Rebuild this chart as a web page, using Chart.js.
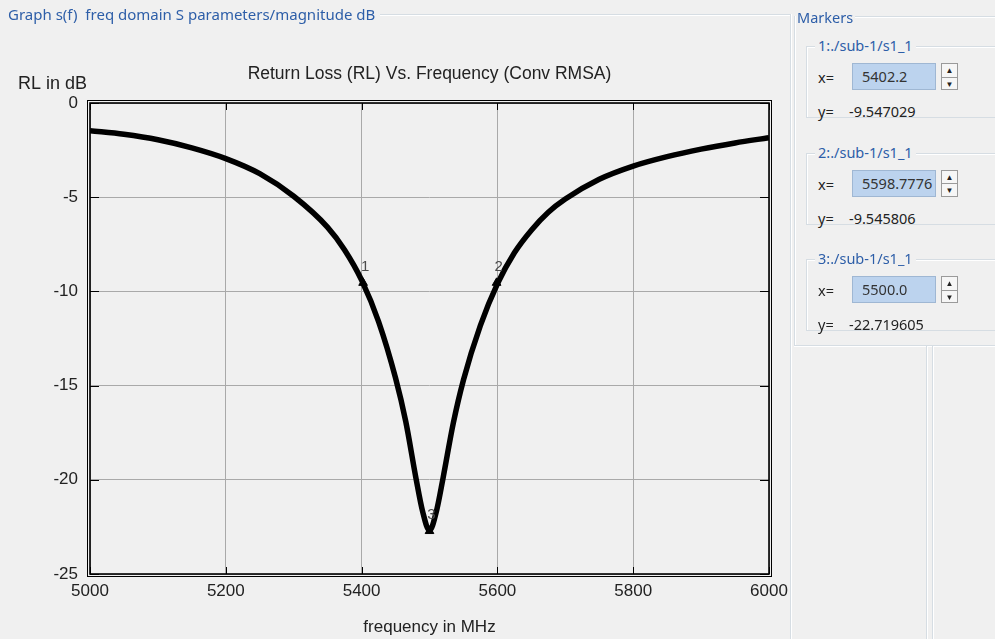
<!DOCTYPE html>
<html>
<head>
<meta charset="utf-8">
<script src="https://cdn.jsdelivr.net/npm/chart.js@4"></script>
<style>
  body { margin: 0; background: #f0f0f0; font-family: "Noto Sans", sans-serif; }
  #wrap { position: relative; width: 995px; height: 639px; overflow: hidden; background: #f0f0f0; }
  #chartBox { position: absolute; left: 0; top: 0; width: 800px; height: 639px; }
  .blue { color: #2d5ea8; }
  .lbl { position: absolute; font-size: 14.5px; white-space: nowrap; }
  .hline { position: absolute; height: 0; border-top: 1px solid #d6dde3; border-bottom: 1px solid #fff; }
  .vline { position: absolute; width: 0; border-left: 1px solid #d6dde3; border-right: 1px solid #fff; }
  .grp { position: absolute; border: 1px solid #d6dde3; border-right: none; box-shadow: inset 1px 1px 0 #fff; }
  .inp { position: absolute; background: #bcd3ee; border: 1px solid #9fb7d3; font-size: 14.5px; color: #333; padding-left: 9px; box-sizing: border-box; line-height: 25px; }
  .spin { position: absolute; width: 17px; border: 1px solid #9a9a9a; background: #f6f6f6; box-sizing: border-box; }
  .spin div { height: 50%; text-align: center; font-size: 8px; line-height: 12px; color: #222; }
  .spin div + div { border-top: 1px solid #9a9a9a; }
  .txt { color: #222; }
</style>
</head>
<body>
<div id="wrap">
  <div id="chartBox"><canvas id="chart" width="800" height="639"></canvas></div>

  <!-- graph group box -->
  <div class="lbl blue" style="left:8px; top:4px; font-size:15px;">Graph s(f)&nbsp; freq domain S parameters/magnitude dB</div>
  <div class="hline" style="left:380px; top:14px; width:410px;"></div>
  <div class="vline" style="left:790px; top:14px; height:625px;"></div>

  <!-- markers panel -->
  <div class="lbl blue" style="left:797px; top:7px;">Markers</div>
  <div class="hline" style="left:855px; top:16px; width:140px;"></div>
  <div class="vline" style="left:794px; top:16px; height:330px;"></div>
  <div class="hline" style="left:794px; top:345px; width:201px;"></div>
  <div class="vline" style="left:926px; top:346px; height:293px;"></div>
  <div class="vline" style="left:932px; top:346px; height:293px;"></div>

  <div id="markerRows"></div>
</div>

<script>
// frequency sweep (MHz) and return loss (dB)
var freqs = [5000, 5050, 5100, 5150, 5200, 5250, 5300, 5350, 5375,
  5400, 5425, 5450, 5465, 5480, 5490, 5500, 5510, 5520, 5535,
  5550, 5575, 5600, 5625, 5650, 5675, 5700, 5750, 5800, 5850,
  5900, 5950, 6000];
var rlValues = [-1.47, -1.66, -1.95, -2.38, -2.95, -3.75, -4.95, -6.6, -7.8,
  -9.4, -11.6, -14.6, -16.9, -19.9, -21.7, -22.7, -21.7, -19.9, -17.0,
  -14.7, -11.8, -9.6, -7.95, -6.75, -5.8, -5.1, -4.05, -3.35, -2.85,
  -2.45, -2.12, -1.84];

var markerNames = ['1', '2', '3'];
var markerFreqs = [5402.2, 5598.7776, 5500.0];
var markerValues = [-9.547029, -9.545806, -22.719605];
var markerTexts = ['5402.2', '5598.7776', '5500.0'];
var markerValueTexts = ['-9.547029', '-9.545806', '-22.719605'];

var xTicks = [5000, 5200, 5400, 5600, 5800, 6000];
var yTicks = [0, -5, -10, -15, -20, -25];

var chartTitle = 'Return Loss (RL) Vs. Frequency (Conv RMSA)';
var yTitle = 'RL in dB';
var xTitle = 'frequency in MHz';
var seriesPath = './sub-1/s1_1';

// marker side panel
(function() {
  var html = [];
  markerNames.forEach(function(name, i) {
    var top = 24 + i * 106.5;
    html.push('<div class="grp" style="left:806px; top:' + (top + 22) + 'px; width:190px; height:' + 70 + 'px;"></div>');
    html.push('<div class="lbl blue" style="left:815px; top:' + (top + 11) + 'px; background:#f0f0f0; padding:0 3px;">' + name + ':' + seriesPath + '</div>');
    html.push('<div class="lbl txt" style="left:818px; top:' + (top + 43) + 'px;">x=</div>');
    html.push('<div class="inp" style="left:852px; top:' + (top + 39) + 'px; width:84px; height:27px;">' + markerTexts[i] + '</div>');
    html.push('<div class="spin" style="left:941px; top:' + (top + 39) + 'px; height:27px;"><div>&#9650;</div><div>&#9660;</div></div>');
    html.push('<div class="lbl txt" style="left:818px; top:' + (top + 77) + 'px;">y=</div>');
    html.push('<div class="lbl txt" style="left:849px; top:' + (top + 77) + 'px;">' + markerValueTexts[i] + '</div>');
  });
  document.getElementById('markerRows').innerHTML = html.join('');
})();

var lineData = freqs.map(function(f, i) { return { x: f, y: rlValues[i] }; });
var markerData = markerFreqs.map(function(f, i) { return { x: f, y: markerValues[i] }; });

var fontFamily = '"Liberation Sans", Arial, sans-serif';

var decorations = {
  id: 'decorations',
  afterDraw: function(chart) {
    var ctx = chart.ctx,
      area = chart.chartArea,
      xs = chart.scales.x,
      ys = chart.scales.y;

    ctx.save();
    // inward tick marks on all four sides
    ctx.strokeStyle = '#000';
    ctx.lineWidth = 1;
    ctx.beginPath();
    xTicks.forEach(function(t) {
      var px = Math.round(xs.getPixelForValue(t)) + 0.5;
      ctx.moveTo(px, area.top); ctx.lineTo(px, area.top + 7);
      ctx.moveTo(px, area.bottom); ctx.lineTo(px, area.bottom - 7);
    });
    yTicks.forEach(function(t) {
      var py = Math.round(ys.getPixelForValue(t)) + 0.5;
      ctx.moveTo(area.left, py); ctx.lineTo(area.left + 9, py);
      ctx.moveTo(area.right, py); ctx.lineTo(area.right - 9, py);
    });
    ctx.stroke();

    // double frame
    ctx.lineWidth = 1.6;
    ctx.strokeRect(area.left, area.top, area.right - area.left, area.bottom - area.top);
    ctx.lineWidth = 1;
    ctx.strokeRect(area.left - 2.5, area.top - 2.5, area.right - area.left + 5, area.bottom - area.top + 5);

    // marker numbers
    ctx.fillStyle = '#4a4a4a';
    ctx.font = '15px ' + fontFamily;
    ctx.textAlign = 'center';
    ctx.textBaseline = 'middle';
    markerData.forEach(function(p, i) {
      ctx.fillText(markerNames[i], xs.getPixelForValue(p.x) + 2, ys.getPixelForValue(p.y) - 16);
    });

    // titles
    ctx.fillStyle = '#222';
    ctx.font = '17.5px ' + fontFamily;
    ctx.fillText(chartTitle, (area.left + area.right) / 2, 74);
    ctx.font = '18px ' + fontFamily;
    ctx.textAlign = 'left';
    ctx.fillText(yTitle, 18, 84);
    ctx.restore();
  }
};

var ctx = document.getElementById('chart').getContext('2d');
new Chart(ctx, {
  type: 'line',
  data: {
    datasets: [
      {
        data: lineData,
        borderColor: '#000',
        borderWidth: 5.5,
        pointRadius: 0,
        cubicInterpolationMode: 'monotone',
        fill: false
      },
      {
        data: markerData,
        showLine: false,
        pointStyle: 'triangle',
        pointRadius: 5,
        backgroundColor: '#000',
        borderColor: '#000',
        borderWidth: 1
      }
    ]
  },
  options: {
    responsive: false,
    animation: false,
    events: [],
    layout: { padding: { top: 103, right: 31, left: 0, bottom: 0 } },
    plugins: { legend: { display: false }, tooltip: { enabled: false }, title: { display: false } },
    scales: {
      x: {
        type: 'linear',
        min: 5000,
        max: 6000,
        afterFit: function(s) { s.height = 65; s.paddingLeft = 0; s.paddingRight = 0; },
        afterBuildTicks: function(s) { s.ticks = xTicks.map(function(v) { return { value: v }; }); },
        grid: { color: '#a9a9a9', lineWidth: 1, drawTicks: false },
        border: { display: false },
        ticks: {
          color: '#222', font: { family: fontFamily, size: 17 }, padding: 7, maxRotation: 0,
          callback: function(v) { return String(v); }
        },
        title: { display: true, text: xTitle, color: '#222', font: { family: fontFamily, size: 17 }, padding: { top: 0, bottom: 1 } }
      },
      y: {
        min: -25,
        max: 0,
        afterFit: function(s) { s.width = 90; },
        afterBuildTicks: function(s) { s.ticks = yTicks.map(function(v) { return { value: v }; }); },
        grid: { color: '#a9a9a9', lineWidth: 1, drawTicks: false },
        border: { display: false },
        ticks: {
          color: '#222', font: { family: fontFamily, size: 17 }, padding: 12,
          callback: function(v) { return String(v); }
        }
      }
    }
  },
  plugins: [decorations]
});
</script>
</body>
</html>
